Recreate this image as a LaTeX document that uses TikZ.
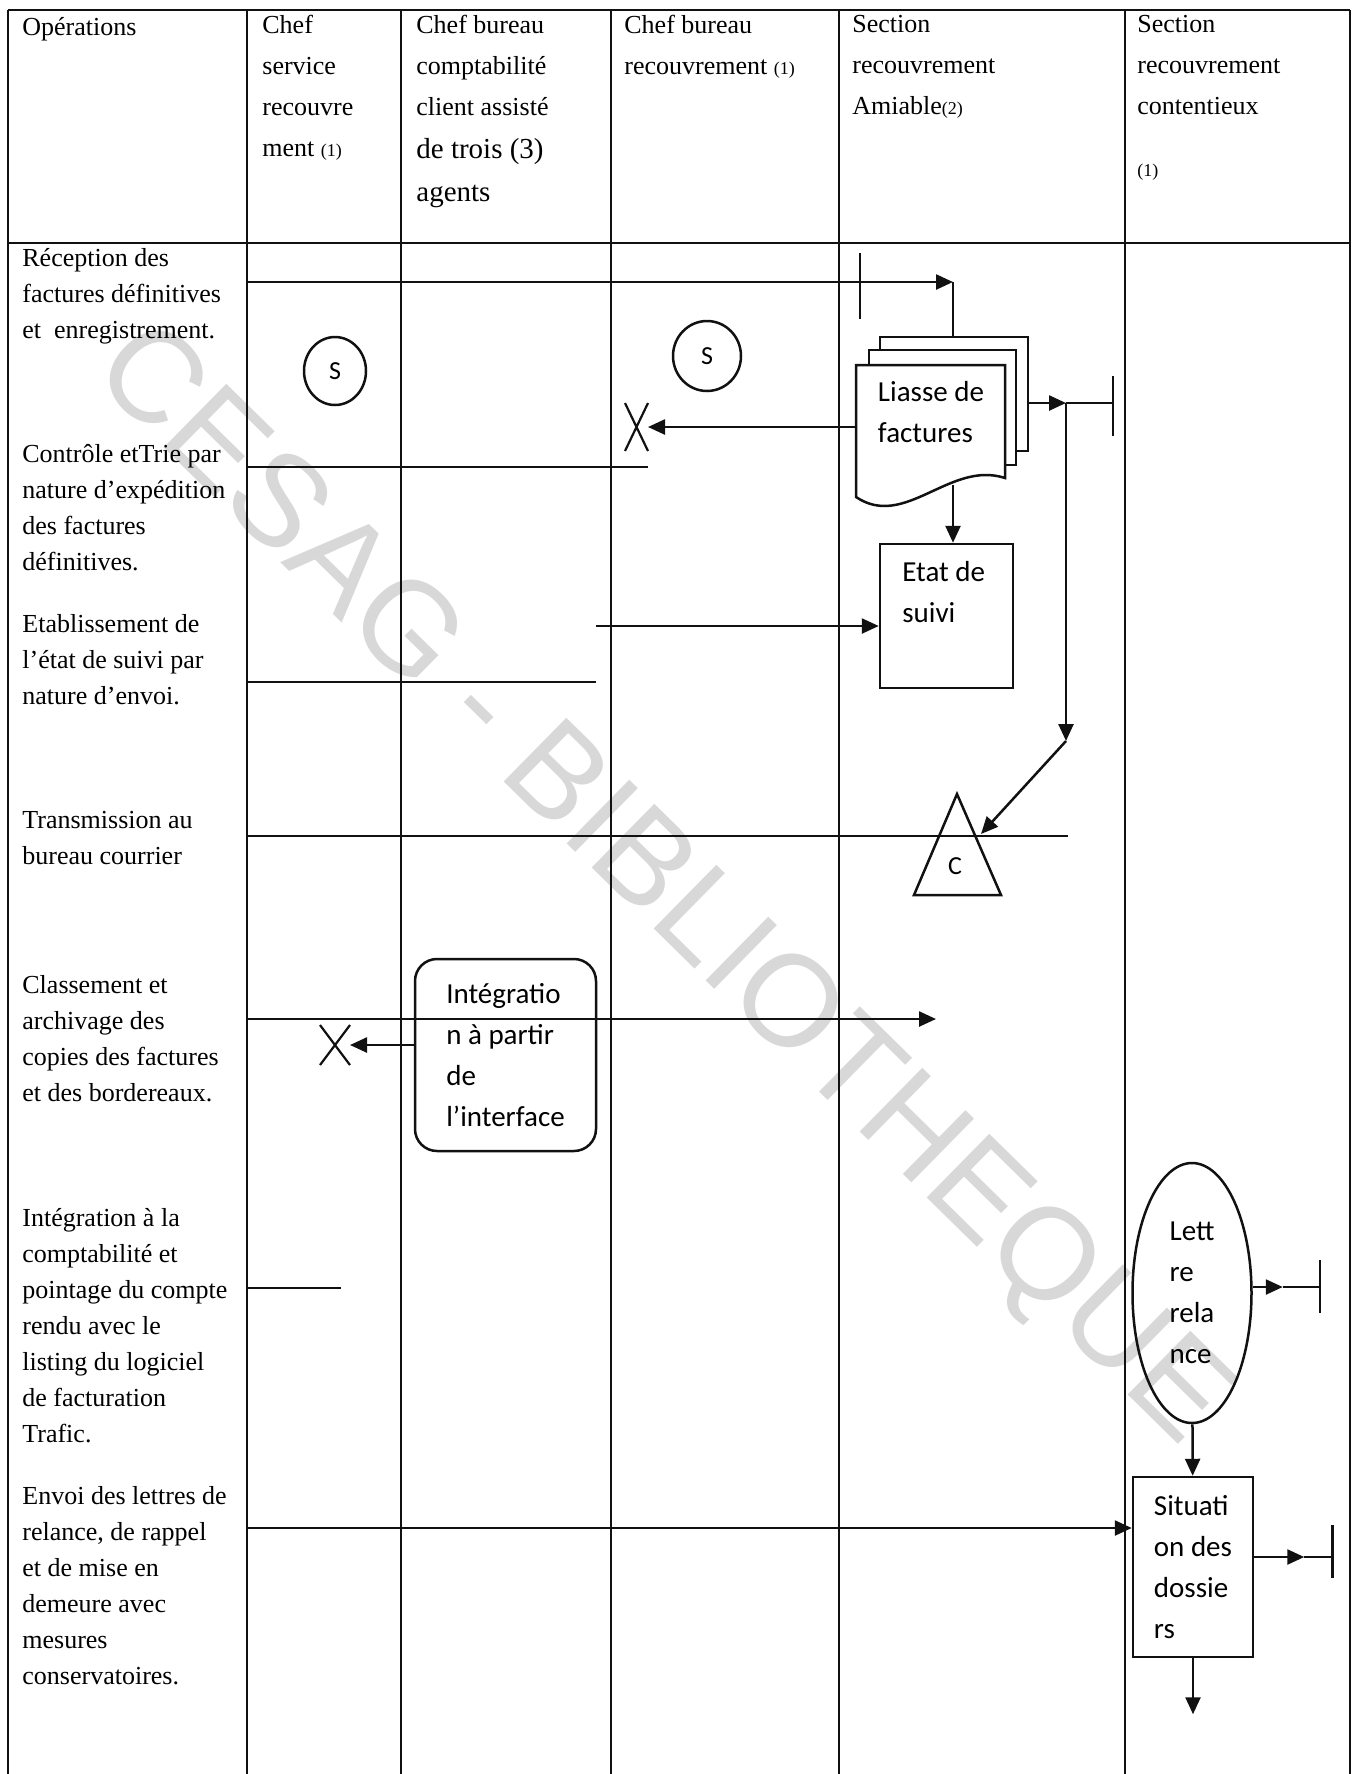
\documentclass[tikz,border=0pt]{standalone}
\usepackage{fontspec}
\setmainfont{Liberation Serif}
\newfontfamily\calib{Carlito}
\newfontfamily\wmark{Liberation Sans}
\usepackage{tikz}
\usetikzlibrary{calc,arrows.meta,positioning,shapes.geometric,shapes.misc}
\definecolor{inkx}{HTML}{111111}
\definecolor{wmgray}{HTML}{D8D8D8}
\newcommand\petit[1]{{\fontsize{9}{9}\selectfont #1}}
\tikzset{
  ar/.style={-{Triangle[length=8.5pt,width=7.5pt]},line width=1.25pt,inkx},
  ln/.style={line width=1.25pt,inkx},
  grid/.style={line width=0.8pt,inkx},
  op/.style={anchor=north west,align=left,inner sep=0pt,font=\fontsize{13}{18}\selectfont,execute at begin node={\rule{0pt}{10pt}}},
  hd/.style={op,font=\fontsize{13}{20.5}\selectfont},
  lbl/.style={inner sep=0pt,align=left,font=\calib\fontsize{14.5}{20.5}\selectfont},
  box/.style={lbl,draw=inkx,line width=1.25pt},
  sym/.style={draw=inkx,line width=1.25pt,ellipse,inner sep=0pt,font=\calib\fontsize{13}{15}\selectfont},
  xmark/.style={draw=inkx,line width=1.1pt,cross out,inner sep=0pt,outer sep=0pt}
}

\begin{document}
\begin{tikzpicture}[x=0.5pt,y=-0.5pt]
\useasboundingbox (0,0) rectangle (1358,1774);
\node[rotate=-44.5,text=wmgray,font=\wmark\fontsize{65}{65}\selectfont] (wm) at (659,888) {CESAG - BIBLIOTHEQUE};
% tableau
\draw[grid] (8,10) -- (1350,10) (8,243) -- (1350,243);
\foreach \x in {8,247,401,611,839,1125,1350} \draw[grid] (\x,10) -- (\x,1774);
\node[hd] (h0) at (22,15) {Opérations};
\node[hd] (h1) at (262,15) {Chef\\service\\recouvre\\ment \petit{(1)}};
\node[hd] (h2) at (416,15) {Chef bureau\\comptabilité\\client assisté\\[1pt]{\fontsize{14.5}{20.5}\selectfont de trois (3)}\\[1pt]{\fontsize{14.5}{20.5}\selectfont agents}};
\node[hd] (h3) at (624,15) {Chef bureau\\recouvrement \petit{(1)}};
\node[hd] (h4) at (852,15) {Section\\recouvrement\\Amiable\petit{(2)}};
\node[hd] (h5) at (1137,15) {Section\\recouvrement\\contentieux};
\node[hd] (h5b) at (1137,156) {\petit{(1)}};
% operations
\node[op] (o1) at (22,248) {Réception des\\factures définitives\\et\ \ enregistrement.};
\node[op] (o2) at (22,444) {Contrôle etTrie par\\nature d’expédition\\des factures\\définitives.};
\node[op] (o3) at (22,614) {Etablissement de\\l’état de suivi par\\nature d’envoi.};
\node[op] (o4) at (22,811) {Transmission au\\bureau courrier};
\node[op] (o5) at (22,975) {Classement et\\archivage des\\copies des factures\\et des bordereaux.};
\node[op] (o6) at (22,1208) {Intégration à la\\comptabilité et\\pointage du compte\\rendu avec le\\listing du logiciel\\de facturation\\Trafic.};
\node[op] (o7) at (22,1486) {Envoi des lettres de\\relance, de rappel\\et de mise en\\demeure avec\\mesures\\conservatoires.};
% symboles
\node[sym,minimum width=31pt,minimum height=34pt] (s1) at (335,371) {S};
\node[sym,minimum width=34pt,minimum height=35pt] (s2) at (707,356) {S};
\draw[ln,fill=white] (880,337) rectangle (1028,451);
\draw[ln,fill=white] (869,350) rectangle (1016,465);
\draw[ln,fill=white] (856,365) -- (1005,365) -- (1005,478) .. controls (950,460) and (905,530) .. (856,497) -- cycle;
\node[lbl] (liasse) at (931,412) {Liasse de\\factures};
\node[box,minimum width=66.5pt,minimum height=72pt] (etat) at (946.5,616) {};
\node[lbl,anchor=north west] (etattxt) at (902,561) {Etat de\\suivi};
\draw[ln] (957,794) -- (1001,895) -- (914,895) -- cycle;
\node[lbl,font=\calib\fontsize{13}{15}\selectfont] (c) at (955,866) {C};
\node[box,rounded corners=11pt,minimum width=90.5pt,minimum height=96pt] (integ) at (505.5,1055) {Intégratio\\n à partir\\de\\l’interface};
\node[box,ellipse,minimum width=59.5pt,minimum height=130pt] (lettre) at (1192,1293) {Lett\\re\\rela\\nce};
\node[box,minimum width=60pt,minimum height=90pt] (sit) at (1193,1567) {Situati\\on des\\dossie\\rs};
\node[xmark,minimum width=11.5pt,minimum height=24pt] (x1) at (636.5,427) {};
\node[xmark,minimum width=15pt,minimum height=20pt] (x2) at (335,1045) {};
% flux
\coordinate (a1) at (247,282); \coordinate (r1) at (953,282); \coordinate (ltop) at (953,337);
\draw[ar] (a1) -- (r1);
\draw[ln] (r1) -- (ltop);
\draw[ln] (860,253) -- (860,319);
\coordinate (lw) at (856,427);
\draw[ar] (lw) -- (x1);
\coordinate (a2) at (247,467);
\draw[ln] (a2) -- (a2 -| x1.east);
\coordinate (a3) at (247,682); \coordinate (b3) at (596,682);
\draw[ln] (a3) -- (b3);
\coordinate (c3) at (596,626);
\draw[ar] (c3) -- (c3 -| etat.west);
\coordinate (lbot) at (953,485);
\draw[ar] (lbot) -- (lbot |- etat.north);
\coordinate (lr) at (1028,403); \coordinate (sp) at (1066,403); \coordinate (e2) at (1113,403);
\draw[ar] (lr) -- (sp);
\draw[ln] (sp) -- (e2);
\draw[ln] (e2) ++(0,-27) -- ++(0,60);
\coordinate (dn) at (1066,741); \coordinate (trihit) at (981,834);
\draw[ar] (sp) -- (dn);
\draw[ar] (dn) -- (trihit);
\coordinate (a5) at (247,836); \coordinate (b5) at (1068,836);
\draw[ln] (a5) -- (b5);
\coordinate (a6) at (247,1019); \coordinate (b6) at (936,1019);
\draw[ar] (a6) -- (b6);
\draw[ar] (integ.west |- x2) -- (x2);
\coordinate (a7) at (247,1288); \coordinate (b7) at (341,1288);
\draw[ln] (a7) -- (b7);
\coordinate (a8) at (247,1528);
\draw[ar] (a8) -- (a8 -| sit.west);
\coordinate (le) at ($(lettre.east)+(0,-6)$);
\coordinate (lt) at ($(le)+(30,0)$); \coordinate (e3) at ($(le)+(67,0)$);
\draw[ar] (le) -- (lt);
\draw[ln] (lt) -- (e3);
\draw[ln] (e3) ++(0,-27) -- ++(0,53);
\draw[ar] (lettre) -- (sit);
\coordinate (se) at ($(sit.east)+(0,-10)$);
\coordinate (st) at ($(se)+(50,0)$); \coordinate (e4) at ($(se)+(78,0)$);
\draw[ar] (se) -- (st);
\draw[ln] (st) -- (e4);
\draw[ln] (e4) ++(0,-32) -- ++(0,53);
\coordinate (sd) at ($(sit.south)+(0,56)$);
\draw[ar] (sit) -- (sd);
\end{tikzpicture}
\end{document}
